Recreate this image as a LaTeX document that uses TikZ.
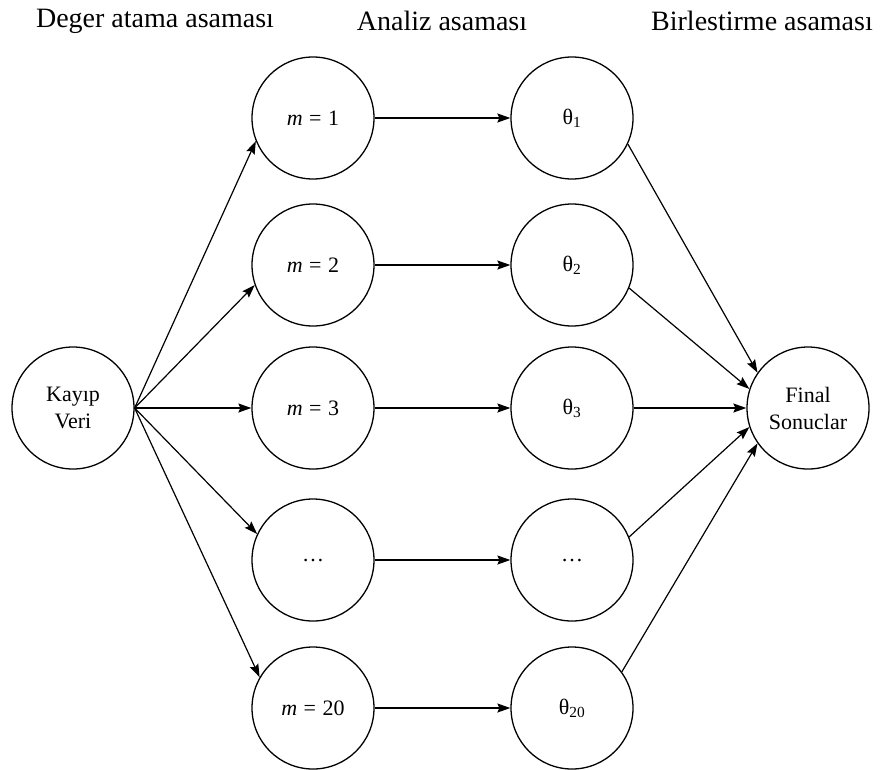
\documentclass[tikz,border=0pt]{standalone}
\usepackage{fontspec}
\setmainfont{Liberation Serif}
\usetikzlibrary{arrows.meta,positioning}

\newcommand{\eqsign}{\hspace{0.3em}=\hspace{0.3em}}

\begin{document}
\begin{tikzpicture}[x=1pt,y=-1pt,->,>={Stealth[length=13pt,width=9pt,inset=2pt]},
        line width=1.2pt,
        main node/.style={circle,draw,line width=1.3pt,minimum size=122pt,inner sep=0pt,
            font=\fontsize{22}{27}\selectfont,align=center},
        stage/.style={font=\fontsize{28}{32}\selectfont}]
    \useasboundingbox (0,0) rectangle (882,769);

    % asama basliklari
    \node[stage] (h1) at (155,21) {Deger atama asaması};
    \node[stage] (h2) at (442,21) {Analiz asaması};
    \node[stage] (h3) at (762,21) {Birlestirme asaması};

    \node[main node] (0) at (73,408) {Kayıp\\Veri};

    \node[main node] (1) at (313,118) {\textit{m}\eqsign 1};
    \node[main node] (2) at (313,265) {\textit{m}\eqsign 2};
    \node[main node] (3) at (313,408) {\textit{m}\eqsign 3};
    \node[main node] (4) at (313,560) {…};
    \node[main node] (5) at (313,708) {\textit{m}\eqsign 20};

    \node[main node] (6) at (572,118) {θ\textsubscript{1}};
    \node[main node] (7) at (572,265) {θ\textsubscript{2}};
    \node[main node] (8) at (572,408) {θ\textsubscript{3}};
    \node[main node] (9) at (572,560) {…};
    \node[main node] (10) at (572,708) {θ\textsubscript{20}};

    \node[main node] (11) at (808,408) {Final\\Sonuclar};

    \path
    (0.east) edge (1.202)
    (0.east) edge (2.199)
    (0.east) edge (3.west)
    (0.east) edge (4.155)
    (0.east) edge (5.150)

    (1) edge (6)
    (2) edge (7)
    (3) edge (8)
    (4) edge (9)
    (5) edge (10)

    (6.-25) edge (11.145)
    (7.-22) edge (11.162)
    (8.east) edge (11.west)
    (9.22) edge (11.198)
    (10.36) edge (11.215)
    ;

\end{tikzpicture}
\end{document}
